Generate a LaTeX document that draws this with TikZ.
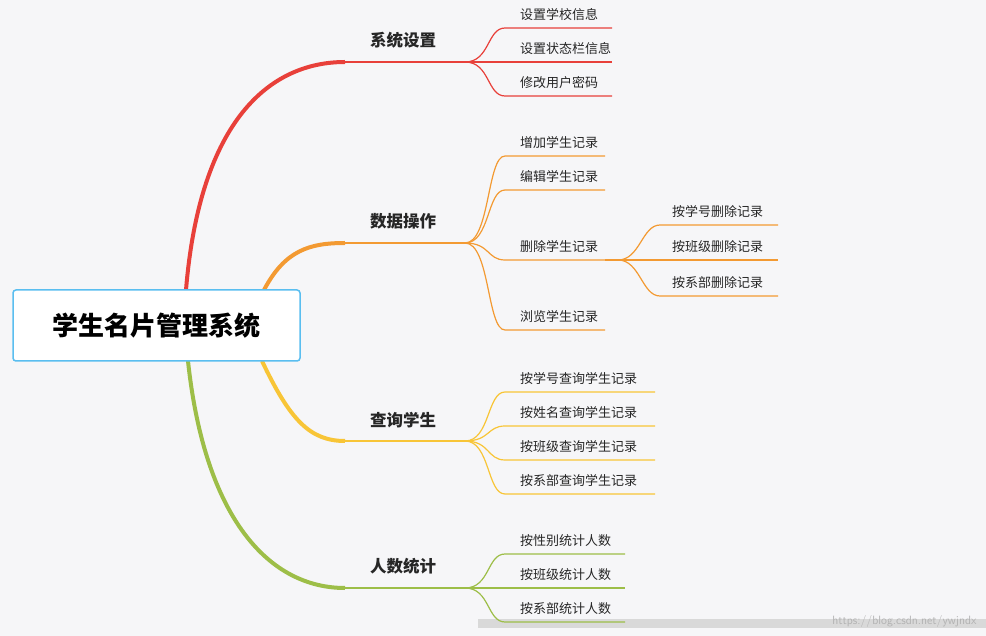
\documentclass[tikz,border=0pt]{standalone}
\usepackage{fontspec}
\usetikzlibrary{calc}
\newfontfamily\cjk{Noto Sans CJK SC}
\begin{document}
\begin{tikzpicture}[x=1pt,y=-1pt,
  leaf/.style={font=\cjk\fontsize{13}{15}\selectfont,text=black!85,inner sep=0pt},
  main/.style={font=\cjk\bfseries\fontsize{16.5}{18}\selectfont,text=black!85,inner sep=0pt},
  br/.style={line width=1.5pt,line cap=round},
  lf/.style={line width=1.2pt}]
\definecolor{cr}{HTML}{E8403A}\definecolor{co}{HTML}{F39A32}
\definecolor{cy}{HTML}{F8C537}\definecolor{cg}{HTML}{9DBE48}
\fill[fill={rgb,255:red,246;green,246;blue,248}] (0,0) rectangle (986,636);
\fill[black!15] (478,619) rectangle (986,628);
\node[font=\fontsize{12}{14}\selectfont\sffamily,text=black!30,anchor=east] (wm) at (980,621) {https://blog.csdn.net/ywjndx};
% root branches
\draw[cr,line width=4pt] (186,290) .. controls (200,120) and (270,62) .. (345,62);
\draw[co,line width=4pt] (264,290) .. controls (285,250) and (310,243) .. (345,243);
\draw[cy,line width=4pt] (262,361) .. controls (290,420) and (310,441) .. (345,441);
\draw[cg,line width=4pt] (188,361) .. controls (205,520) and (270,588) .. (345,588);
\node[draw={rgb,255:red,90;green,190;blue,240},line width=1.5pt,fill=white,rounded corners=3pt,minimum width=287pt,minimum height=71pt,font=\cjk\bfseries\fontsize{26}{30}\selectfont] (root) at (156.5,325.5) {学生名片管理系统};
% level 1
\coordinate (a0) at (345,62);\coordinate (a1) at (465,62);
\coordinate (b0) at (345,243);\coordinate (b1) at (465,243);
\coordinate (c0) at (345,441);\coordinate (c1) at (465,441);
\coordinate (d0) at (345,588);\coordinate (d1) at (465,588);
\draw[cr,br] (a0)--(a1); \draw[co,br] (b0)--(b1); \draw[cy,br] (c0)--(c1); \draw[cg,br] (d0)--(d1);
\node[main] (A) at (403,40) {系统设置};
\node[main] (B) at (403,221) {数据操作};
\node[main] (C) at (403,420) {查询学生};
\node[main] (D) at (403,566) {人数统计};
% leaves
\foreach \col/\s/\y/\xe/\t/\n in {cr/a1/28/612/设置学校信息/a,cr/a1/62/612/设置状态栏信息/b,cr/a1/96/612/修改用户密码/c,
 co/b1/156/605/增加学生记录/d,co/b1/190/605/编辑学生记录/e,co/b1/260/605/删除学生记录/f,co/b1/330/605/浏览学生记录/g,
 cy/c1/392/655/按学号查询学生记录/h,cy/c1/426/655/按姓名查询学生记录/i,cy/c1/460/655/按班级查询学生记录/j,cy/c1/494/655/按系部查询学生记录/k,
 cg/d1/554/625/按性别统计人数/l,cg/d1/588/625/按班级统计人数/m,cg/d1/622/625/按系部统计人数/n}{
 \coordinate (s\n) at (505,\y); \coordinate (e\n) at (\xe,\y);
 \draw[\col,lf] (\s) .. controls ($(\s)+(25,0)$) and ($(s\n)+(-18,0)$) .. (s\n) -- (e\n);
 \node[leaf,anchor=west] (t\n) at (520,\y-13) {\t};
}
\coordinate (f2) at (618,260);
\draw[co,lf] (ef)--(f2);
\foreach \y/\t/\n in {225/按学号删除记录/p,260/按班级删除记录/q,296/按系部删除记录/r}{
 \coordinate (s\n) at (660,\y); \coordinate (e\n) at (778,\y);
 \draw[co,lf] (f2) .. controls (640,260) and (642,\y) .. (s\n) -- (e\n);
 \node[leaf,anchor=west] (t\n) at (672,\y-13) {\t};
}
\end{tikzpicture}
\end{document}
